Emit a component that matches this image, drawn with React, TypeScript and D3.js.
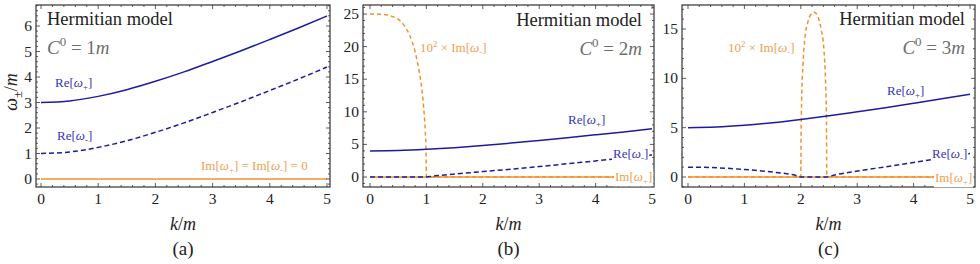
import React, { useEffect, useRef } from "react";
import * as d3 from "d3";

// k/m sample grid used by the smooth Re curves
const kGrid = [0, 0.5, 1, 1.5, 2, 2.5, 3, 3.5, 4, 4.5, 5];

// panel (a) C0 = 1m
const rePlusA = [3, 3.06, 3.24, 3.5, 3.83, 4.2, 4.61, 5.03, 5.47, 5.92, 6.39];
const reMinusA = [1, 1.06, 1.24, 1.5, 1.83, 2.2, 2.61, 3.03, 3.47, 3.92, 4.39];
const imZeroK = [0, 5];
const imZero = [0, 0];

// panel (b) C0 = 2m
const rePlusB = [4, 4.06, 4.24, 4.5, 4.83, 5.2, 5.61, 6.03, 6.47, 6.92, 7.39];
const reMinusBK = [0, 1, 1.1, 1.25, 1.5, 2, 2.5, 3, 3.5, 4, 4.5, 5];
const reMinusB = [0, 0, 0.12, 0.25, 0.45, 0.83, 1.2, 1.6, 2.03, 2.47, 2.92, 3.39];
const imMinusBK = [0, 0.2, 0.4, 0.5, 0.6, 0.7, 0.8, 0.85, 0.9, 0.95, 0.98, 0.995, 1, 5];
const imMinusB = [25, 24.95, 24.6, 24.2, 23.3, 21.8, 19.2, 17.2, 14.7, 10.8, 7.0, 3.5, 0, 0];

// panel (c) C0 = 3m
const rePlusC = [5, 5.06, 5.24, 5.5, 5.83, 6.2, 6.61, 7.03, 7.47, 7.92, 8.39];
const reMinusCK = [0, 0.5, 1, 1.5, 1.75, 1.9, 2, 2.46, 2.6, 3, 3.5, 4, 4.5, 5];
const reMinusC = [1.0, 0.94, 0.76, 0.5, 0.33, 0.18, 0, 0, 0.2, 0.6, 1.03, 1.47, 1.92, 2.39];
const imMinusCK = [0, 2, 2.005, 2.015, 2.04, 2.07, 2.13, 2.2, 2.24, 2.3, 2.36, 2.41, 2.44, 2.455, 2.46, 5];
const imMinusC = [0, 0, 4, 7.8, 11.5, 13.9, 15.8, 16.6, 16.7, 16.3, 15, 12.9, 9.5, 6, 0, 0];

const xTicks = [0, 1, 2, 3, 4, 5];
const yTicksA = [0, 1, 2, 3, 4, 5, 6];
const yTicksB = [0, 5, 10, 15, 20, 25];
const yTicksC = [0, 5, 10, 15];

const BLUE = "#1c1ca3";
const BLUE_TXT = "#3434b8";
const ORANGE = "#f0922e";
const ORANGE_TXT = "#f0a04e";
const FONT = "Liberation Serif";

type Part = { t: string; i?: boolean; sub?: boolean; sup?: boolean };

const rich = (sel: any, parts: Part[], size: number) => {
  let shift = 0;
  parts.forEach((p) => {
    const ts = sel.append("tspan").text(p.t);
    let target = 0;
    if (p.sub) target = size * 0.25;
    if (p.sup) target = -size * 0.4;
    ts.attr("dy", target - shift);
    shift = target;
    if (p.i) ts.style("font-style", "italic");
    if (p.sub || p.sup) ts.style("font-size", size * 0.68 + "px");
  });
};

const txt = (sel: any, size: number, fill: string) =>
  sel.style("font-family", FONT).style("font-size", size + "px").attr("fill", fill);

const App = () => {
  const svgRef = useRef(null);

  useEffect(() => {
    document.body.style.margin = "0";
    const svg = d3.select(svgRef.current);
    svg.selectAll("*").remove();

    const panels = [
      {
        frame: [36, 330], px: [41, 327], yDom: [0, 6], py: [179, 26], yTicks: yTicksA, yMinor: 0.2,
        series: [
          { k: imZeroK, v: imZero, c: ORANGE, dash: null },
          { k: kGrid, v: reMinusA, c: BLUE, dash: "5,3" },
          { k: kGrid, v: rePlusA, c: BLUE, dash: null },
        ],
        c0: "1", tag: "(a)", title: [47, 25], cx: 47,
        labels: [
          { x: 55, y: 87, c: BLUE_TXT, bg: false, parts: [{ t: "Re[" }, { t: "ω", i: true }, { t: "+", sub: true }, { t: "]" }] },
          { x: 57, y: 140, c: BLUE_TXT, bg: false, parts: [{ t: "Re[" }, { t: "ω", i: true }, { t: "-", sub: true }, { t: "]" }] },
          { x: 201, y: 170, c: ORANGE_TXT, bg: false, parts: [{ t: "Im[" }, { t: "ω", i: true }, { t: "+", sub: true }, { t: "] = Im[" }, { t: "ω", i: true }, { t: "-", sub: true }, { t: "] = 0" }] },
        ],
      },
      {
        frame: [363, 654], px: [370, 652], yDom: [0, 25], py: [177, 14], yTicks: yTicksB, yMinor: 1,
        series: [
          { k: imZeroK, v: imZero, c: ORANGE, dash: null },
          { k: imMinusBK, v: imMinusB, c: ORANGE, dash: "4,3" },
          { k: reMinusBK, v: reMinusB, c: BLUE, dash: "5,3" },
          { k: kGrid, v: rePlusB, c: BLUE, dash: null },
        ],
        c0: "2", tag: "(b)", title: [642, 26], cx: 642,
        labels: [
          { x: 420, y: 52, c: ORANGE_TXT, bg: false, parts: [{ t: "10" }, { t: "2", sup: true }, { t: " × Im[" }, { t: "ω", i: true }, { t: "-", sub: true }, { t: "]" }] },
          { x: 568, y: 124, c: BLUE_TXT, bg: false, parts: [{ t: "Re[" }, { t: "ω", i: true }, { t: "+", sub: true }, { t: "]" }] },
          { x: 613, y: 158, c: BLUE_TXT, bg: true, parts: [{ t: "Re[" }, { t: "ω", i: true }, { t: "-", sub: true }, { t: "]" }] },
          { x: 615, y: 181, c: ORANGE_TXT, bg: true, parts: [{ t: "Im[" }, { t: "ω", i: true }, { t: "+", sub: true }, { t: "]" }] },
        ],
      },
      {
        frame: [682, 975], px: [688, 970], yDom: [0, 15], py: [177, 29], yTicks: yTicksC, yMinor: 1,
        series: [
          { k: imZeroK, v: imZero, c: ORANGE, dash: null },
          { k: imMinusCK, v: imMinusC, c: ORANGE, dash: "4,3" },
          { k: reMinusCK, v: reMinusC, c: BLUE, dash: "5,3" },
          { k: kGrid, v: rePlusC, c: BLUE, dash: null },
        ],
        c0: "3", tag: "(c)", title: [965, 25], cx: 965,
        labels: [
          { x: 728, y: 52, c: ORANGE_TXT, bg: false, parts: [{ t: "10" }, { t: "2", sup: true }, { t: " × Im[" }, { t: "ω", i: true }, { t: "-", sub: true }, { t: "]" }] },
          { x: 887, y: 95, c: BLUE_TXT, bg: false, parts: [{ t: "Re[" }, { t: "ω", i: true }, { t: "+", sub: true }, { t: "]" }] },
          { x: 932, y: 158, c: BLUE_TXT, bg: true, parts: [{ t: "Re[" }, { t: "ω", i: true }, { t: "-", sub: true }, { t: "]" }] },
          { x: 935, y: 182, c: ORANGE_TXT, bg: true, parts: [{ t: "Im[" }, { t: "ω", i: true }, { t: "+", sub: true }, { t: "]" }] },
        ],
      },
    ];

    const top = 5, bottom = 187;

    panels.forEach((p, pi) => {
      const x = d3.scaleLinear().domain([0, 5]).range(p.px);
      const y = d3.scaleLinear().domain(p.yDom).range(p.py);
      const g = svg.append("g");
      const clipId = "clip" + pi;
      svg.append("clipPath").attr("id", clipId).append("rect")
        .attr("x", p.frame[0]).attr("y", top).attr("width", p.frame[1] - p.frame[0]).attr("height", bottom - top);

      const plot = g.append("g").attr("clip-path", `url(#${clipId})`);
      const line = d3.line<number[]>()
        .x((d) => x(d[0]))
        .y((d) => y(d[1]))
        .curve(d3.curveMonotoneX);
      p.series.forEach((s) => {
        const pts = s.k.map((k, i) => [k, s.v[i]]);
        plot.append("path")
          .attr("d", line(pts))
          .attr("fill", "none")
          .attr("stroke", s.c)
          .attr("stroke-width", 1.5)
          .attr("stroke-dasharray", s.dash);
      });

      // frame ticks
      const xMin = [x.invert(p.frame[0]), x.invert(p.frame[1])];
      const yMin = [y.invert(bottom), y.invert(top)];
      const xm = d3.range(Math.ceil(xMin[0] / 0.2) * 0.2, xMin[1], 0.2);
      const ym = d3.range(Math.ceil(yMin[0] / p.yMinor) * p.yMinor, yMin[1], p.yMinor);
      const tk = g.append("g").attr("stroke", "#333").attr("stroke-width", 0.8);
      xm.forEach((v) => {
        const major = Math.abs(v - Math.round(v)) < 1e-6;
        const len = major ? 4 : 2;
        tk.append("line").attr("x1", x(v)).attr("x2", x(v)).attr("y1", bottom).attr("y2", bottom - len);
        tk.append("line").attr("x1", x(v)).attr("x2", x(v)).attr("y1", top).attr("y2", top + len);
      });
      const step = p.yTicks[1] - p.yTicks[0];
      ym.forEach((v) => {
        const r = v / step;
        const major = Math.abs(r - Math.round(r)) < 1e-6;
        const len = major ? 4 : 2;
        tk.append("line").attr("y1", y(v)).attr("y2", y(v)).attr("x1", p.frame[0]).attr("x2", p.frame[0] + len);
        tk.append("line").attr("y1", y(v)).attr("y2", y(v)).attr("x1", p.frame[1]).attr("x2", p.frame[1] - len);
      });

      g.append("rect")
        .attr("x", p.frame[0]).attr("y", top)
        .attr("width", p.frame[1] - p.frame[0]).attr("height", bottom - top)
        .attr("fill", "none").attr("stroke", "#333").attr("stroke-width", 1.2);

      // tick labels
      xTicks.forEach((v) => {
        txt(g.append("text").attr("x", x(v)).attr("y", 204).attr("text-anchor", "middle"), 15.5, "#222").text(v);
      });
      p.yTicks.forEach((v) => {
        txt(g.append("text").attr("x", p.frame[0] - 4).attr("y", y(v) + 5).attr("text-anchor", "end"), 15.5, "#222").text(v);
      });

      // series labels
      p.labels.forEach((l) => {
        const lg = g.append("g");
        const t = txt(lg.append("text").attr("x", l.x).attr("y", l.y), 13, l.c);
        rich(t, l.parts as Part[], 13);
        if (l.bg) {
          const bb = (t.node() as any).getBBox();
          lg.insert("rect", "text").attr("x", bb.x - 1).attr("y", bb.y).attr("width", bb.width + 2).attr("height", bb.height).attr("fill", "#fff");
        }
      });

      // title and C0
      const anchor = pi === 0 ? "start" : "end";
      txt(g.append("text").attr("x", p.title[0]).attr("y", p.title[1]).attr("text-anchor", anchor), 18.5, "#222")
        .text("Hermitian model");
      const ct = txt(g.append("text").attr("x", p.cx).attr("y", p.title[1] + 29).attr("text-anchor", anchor), 19, "#6e6e6e");
      rich(ct, [{ t: "C", i: true }, { t: "0", sup: true }, { t: " = " + p.c0 }, { t: "m", i: true }], 19);

      // x label and tag
      const mid = (p.frame[0] + p.frame[1]) / 2;
      const xl = txt(g.append("text").attr("x", mid).attr("y", 230).attr("text-anchor", "middle"), 18, "#222");
      rich(xl, [{ t: "k", i: true }, { t: "/" }, { t: "m", i: true }], 18);
      txt(g.append("text").attr("x", mid).attr("y", 255).attr("text-anchor", "middle"), 19, "#222").text(p.tag);
    });

    // y label of panel (a)
    const yl = txt(svg.append("text").attr("transform", "translate(17,92) rotate(-90)").attr("text-anchor", "middle"), 18, "#222");
    rich(yl, [{ t: "ω", i: true }, { t: "±", sub: true }, { t: "/" }, { t: "m", i: true }], 18);
  }, []);

  return (
    <div>
      <svg ref={svgRef} width={980} height={264} style={{ display: "block" }}></svg>
    </div>
  );
};

export default App;
